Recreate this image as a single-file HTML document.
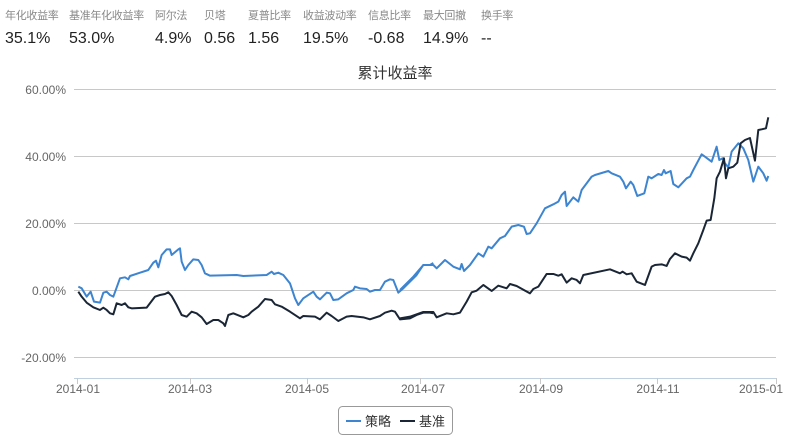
<!DOCTYPE html>
<html><head><meta charset="utf-8"><style>
body{margin:0;background:#fff;width:791px;height:441px;overflow:hidden;font-family:"Liberation Sans","Noto Sans CJK SC",sans-serif}
.s{position:absolute;top:7px}
.l{font-size:11px;color:#888;white-space:nowrap;letter-spacing:-0.3px}
.v{font-size:16px;color:#222;margin-top:7px;white-space:nowrap}
</style></head><body>
<div class="s" style="left:5px"><div class="l">年化收益率</div><div class="v">35.1%</div></div>
<div class="s" style="left:69px"><div class="l">基准年化收益率</div><div class="v">53.0%</div></div>
<div class="s" style="left:155px"><div class="l">阿尔法</div><div class="v">4.9%</div></div>
<div class="s" style="left:204px"><div class="l">贝塔</div><div class="v">0.56</div></div>
<div class="s" style="left:248px"><div class="l">夏普比率</div><div class="v">1.56</div></div>
<div class="s" style="left:303px"><div class="l">收益波动率</div><div class="v">19.5%</div></div>
<div class="s" style="left:368px"><div class="l">信息比率</div><div class="v">-0.68</div></div>
<div class="s" style="left:423px"><div class="l">最大回撤</div><div class="v">14.9%</div></div>
<div class="s" style="left:481px"><div class="l">换手率</div><div class="v">--</div></div>
<svg width="791" height="441" style="position:absolute;left:0;top:0" font-family="Liberation Sans, Noto Sans CJK SC, sans-serif">
<text x="395" y="78" font-size="15" fill="#333" text-anchor="middle">累计收益率</text>
<g stroke="#c8c8c8" stroke-width="1">
<line x1="74" x2="776" y1="89.5" y2="89.5"/><line x1="74" x2="776" y1="156.5" y2="156.5"/><line x1="74" x2="776" y1="223.5" y2="223.5"/><line x1="74" x2="776" y1="290.5" y2="290.5"/><line x1="74" x2="776" y1="357.5" y2="357.5"/>
<line x1="74" x2="776" y1="378.5" y2="378.5" stroke="#c0d0e0"/>
<line x1="77.5" x2="77.5" y1="378" y2="384"/><line x1="190.5" x2="190.5" y1="378" y2="384"/><line x1="307.5" x2="307.5" y1="378" y2="384"/><line x1="420.5" x2="420.5" y1="378" y2="384"/><line x1="540.5" x2="540.5" y1="378" y2="384"/><line x1="657.5" x2="657.5" y1="378" y2="384"/><line x1="776.5" x2="776.5" y1="378" y2="384"/>
</g>
<g font-size="12" fill="#666" text-anchor="end">
<text x="66" y="94">60.00%</text><text x="66" y="161">40.00%</text><text x="66" y="228">20.00%</text><text x="66" y="295">0.00%</text><text x="66" y="362">-20.00%</text>
</g>
<g font-size="12" fill="#666" text-anchor="middle">
<text x="78" y="393">2014-01</text><text x="190" y="393">2014-03</text><text x="307" y="393">2014-05</text><text x="423" y="393">2014-07</text><text x="541" y="393">2014-09</text><text x="658" y="393">2014-11</text><text x="761" y="393">2015-01</text>
</g>
<g fill="none" stroke-width="2" stroke-linejoin="round">
<g transform="translate(70,220) scale(0.3333)">
<polyline vector-effect="non-scaling-stroke" stroke="#3d85d0" points="25,200 35,205 50,230 62,215 72,245 90,248 100,218 110,215 120,225 130,230 150,175 165,172 175,178 180,168 210,158 235,150 250,128 258,122 265,142 275,105 290,88 300,88 305,105 325,88 330,85 335,125 345,150 355,135 370,118 385,120 395,135 405,160 420,167 500,165 520,168 590,165 605,155 612,162 625,158 640,165 660,190 675,235 685,255 700,235 730,215 740,230 750,238 770,218 780,220 790,240 805,238 830,220 850,210 855,200 870,205 890,207 900,215 915,210 930,210 945,185 960,178 970,180 985,218 1000,205 1020,185 1040,165 1060,135 1080,135 1090,129"/>
<polyline vector-effect="non-scaling-stroke" stroke="#1a2636" points="25,215 35,230 50,248 70,262 90,270 100,263 110,270 120,280 130,283 140,250 155,255 165,250 175,262 185,265 230,263 255,230 270,225 285,222 295,217 305,228 320,255 335,285 350,290 365,275 380,280 395,292 410,312 430,300 445,300 460,310 465,318 475,285 490,280 520,292 535,285 545,275 565,260 585,237 605,240 615,253 635,260 660,275 690,295 700,288 735,290 750,298 770,278 785,288 805,303 830,290 845,288 880,292 900,298 930,288 945,278 965,272 975,275 990,298 1020,295 1040,285 1060,278 1080,278 1090,280"/>
</g>
<g transform="translate(400,110) scale(0.3333)">
<polyline vector-effect="non-scaling-stroke" stroke="#3d85d0" points="0,540 20,520 40,500 70,465 100,465 110,475 135,450 160,470 180,478 185,462 192,483 210,465 235,430 250,440 265,410 275,415 300,385 315,378 335,350 355,345 372,350 380,372 390,370 410,340 435,295 460,283 475,275 485,255 495,245 500,288 520,262 535,275 545,240 575,200 585,195 625,183 635,190 660,200 670,215 678,235 692,215 700,225 712,258 733,250 745,200 755,205 775,192 785,195 792,180 797,190 812,183 820,222 835,232 860,205 870,200 880,180 905,133 915,140 935,155 950,110 958,150 968,145 975,160 985,172 995,125 1015,100 1030,115 1045,150 1060,215 1075,170 1090,190 1100,212 1105,198"/>
<polyline vector-effect="non-scaling-stroke" stroke="#1a2636" points="0,625 30,620 70,606 100,606 110,622 140,610 160,613 180,608 200,575 215,547 230,542 250,525 275,543 295,527 320,535 330,522 350,528 375,542 390,550 400,537 415,530 440,492 460,492 475,497 485,493 500,518 515,505 530,510 540,520 550,495 630,478 660,490 668,485 680,493 695,490 710,515 735,525 755,470 765,465 785,463 800,468 810,447 825,430 845,440 860,443 870,452 880,430 895,400 910,360 920,332 932,330 943,265 950,205 960,185 972,145 978,205 985,175 1000,170 1012,158 1022,100 1035,90 1050,84 1065,152 1075,60 1085,58 1098,55 1105,22"/>
</g>
</g>
<rect x="338.5" y="406.5" width="114" height="28" rx="4" fill="#fff" stroke="#999"/>
<line x1="346" x2="361" y1="421" y2="421" stroke="#3d85d0" stroke-width="2"/>
<text x="365" y="426" font-size="13" fill="#333">策略</text>
<line x1="400" x2="415" y1="421" y2="421" stroke="#1a2636" stroke-width="2"/>
<text x="419" y="426" font-size="13" fill="#333">基准</text>
</svg>
</body></html>
